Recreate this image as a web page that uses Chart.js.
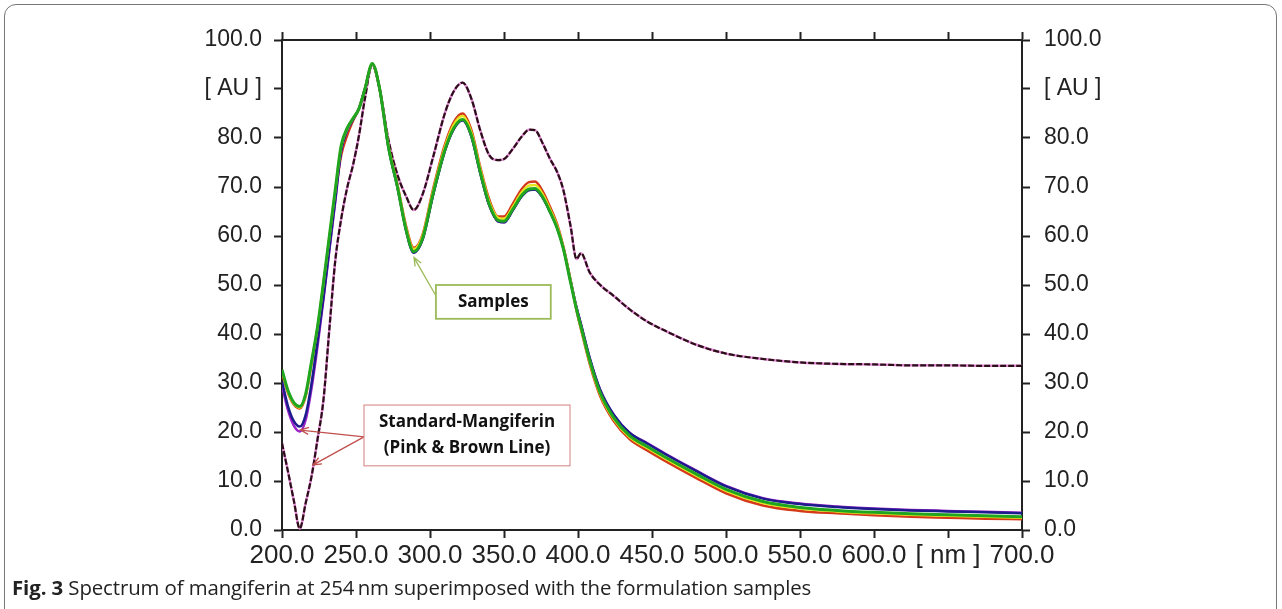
<!DOCTYPE html>
<html>
<head>
<meta charset="utf-8">
<title>Spectrum of mangiferin</title>
<script src="https://cdn.jsdelivr.net/npm/chart.js@4.4.1/dist/chart.umd.min.js"></script>
<style>
    body { margin: 0; background: #fff; }
    #wrap { position: relative; width: 1282px; height: 609px; overflow: hidden; }
    #frame { position: absolute; left: 4px; top: 4px; width: 1273px; height: 640px; border: 1.5px solid #777; border-radius: 12px; box-sizing: border-box; }
    #chart { position: absolute; left: 0; top: 0; }
    #caption { position: absolute; left: 12px; top: 573px; font-family: "Open Sans", sans-serif; font-size: 20.4px; color: #222; white-space: nowrap; letter-spacing: -0.1px; }
    #caption b { font-weight: 700; }
</style>
</head>
<body>
<div id="wrap">
    <div id="frame"></div>
    <canvas id="chart" width="1282" height="609"></canvas>
    <div id="caption"><b>Fig. 3</b> Spectrum of mangiferin at 254&#8201;nm superimposed with the formulation samples</div>
</div>
<script>
// wavelengths (nm) shared by every trace
const wavelengths = [200, 204, 208, 212, 216, 220, 224, 228, 232, 236,
    240, 244, 248, 252, 256, 261, 266, 272, 278, 284,
    289, 295, 302, 310, 316, 322, 328, 334, 340, 346,
    350, 356, 362, 367, 371, 376, 381, 386, 390, 395,
    399, 402, 408, 415, 424, 435, 447, 460, 480, 500,
    525, 550, 575, 600, 625, 650, 675, 700];

// standard mangiferin (pink & brown line)
const standardMangiferin = [17.7, 12, 6, 0.3, 5.5, 11, 18.5, 26.5, 41, 55,
    63.5, 69.8, 74.5, 80.5, 88, 95, 90, 79.5, 72.5, 68,
    65.3, 68.5, 76, 85, 89.5, 91.3, 88, 81.5, 76.5, 75.5,
    75.7, 77.8, 80.3, 81.7, 81.6, 79, 75.8, 73, 69.5, 62,
    55.3, 56.5, 52.5, 50, 47.8, 45, 42.5, 40.5, 37.8, 36,
    34.9, 34.2, 33.9, 33.8, 33.6, 33.6, 33.5, 33.5];

// formulation samples
const sampleGreen = [32.7, 28.5, 26, 25.2, 27.8, 34.5, 41.5, 50.5, 60, 69.5,
    78.5, 82, 84, 86, 90, 95.2, 90, 78, 70, 61,
    56.8, 59.5, 68.5, 77.5, 82, 83.8, 80.5, 73, 66.5, 63.2,
    63, 65.5, 68.3, 69.6, 69.7, 68, 65, 61.5, 57.5, 50.5,
    45, 41.5, 34.5, 28, 23, 19.2, 17, 14.7, 11.4, 8.3,
    5.8, 4.6, 4.0, 3.6, 3.3, 3.1, 2.9, 2.7];

const sampleYellow = [32.5, 28.3, 25.8, 25, 27.6, 34.3, 41.3, 50.3, 59.8, 69.3,
    78.3, 81.8, 84, 86, 90, 95.1, 90, 78.2, 70.3, 61.4,
    57.3, 60, 69, 78.1, 82.7, 84.5, 81.1, 73.6, 67, 63.7,
    63.5, 66, 68.9, 70.3, 70.4, 68.6, 65.5, 61.9, 57.8, 50.8,
    45, 41.3, 34.2, 27.7, 22.7, 18.9, 16.7, 14.4, 11.1, 8,
    5.5, 4.4, 3.8, 3.4, 3.1, 2.9, 2.7, 2.5];

const sampleBlue = [30.3, 25.3, 22.2, 21.1, 23.5, 30, 38.5, 47.5, 57.5, 67.5,
    77.5, 81.5, 83.8, 86, 90, 95, 90, 78, 70, 61,
    56.6, 59.3, 68.3, 77.3, 81.8, 83.6, 80.3, 72.8, 66.3, 63,
    62.8, 65.3, 68.1, 69.4, 69.5, 67.9, 65, 61.6, 57.7, 50.8,
    45.4, 42, 35, 28.6, 23.6, 19.8, 17.6, 15.3, 12, 8.9,
    6.4, 5.3, 4.7, 4.3, 4.0, 3.8, 3.6, 3.4];

const sampleViolet = [29.5, 24.5, 21.3, 20.1, 22.5, 29, 37.5, 47, 57, 67,
    77.5, 81.5, 83.8, 86, 90, 95, 90, 78, 70, 61,
    56.6, 59.3, 68.3, 77.3, 81.8, 83.6, 80.3, 72.8, 66.3, 63,
    62.8, 65.3, 68.1, 69.4, 69.5, 67.9, 65, 61.6, 57.7, 50.8,
    45.4, 42, 35, 28.6, 23.6, 19.8, 17.7, 15.4, 12.1, 9,
    6.5, 5.4, 4.8, 4.4, 4.1, 3.9, 3.7, 3.5];

const sampleRed = [32, 28, 25.6, 24.8, 27.3, 34, 41, 50, 59.5, 68.5,
    76.5, 80.5, 83.5, 86, 90, 95, 90, 78.3, 70.5, 61.8,
    57.6, 60.3, 69.5, 78.6, 83.2, 85, 81.6, 74, 67.5, 64,
    64, 66.6, 69.6, 71, 71.1, 69.2, 66, 62.3, 58, 51,
    44.8, 41, 33.8, 27.3, 22.3, 18.5, 16.2, 13.9, 10.6, 7.5,
    5, 3.9, 3.4, 3.0, 2.7, 2.5, 2.3, 2.2];

// axis ticks
const xTicks = [200, 250, 300, 350, 400, 450, 500, 550, 600, 650, 700];
const yTicks = [0, 10, 20, 30, 40, 50, 60, 70, 80, 90, 100];

// helper to pair wavelengths with values
function toPoints(values) {
    return wavelengths.map((w, i) => ({ x: w, y: values[i] }));
}

function makeLine(label, values, color, width, dash) {
    return {
        label: label,
        data: toPoints(values),
        borderColor: color,
        borderWidth: width,
        borderDash: dash || [],
        pointRadius: 0,
        fill: false,
        cubicInterpolationMode: "monotone"
    };
}

// callouts, placed in data units (nm, AU)
const callouts = [
    {
        lines: ["Samples"], box: [304, 50, 381.6, 43.1], color: "#9bbb59",
        arrows: [{ from: [304, 47.8], to: [289.2, 55.6] }]
    },
    {
        lines: ["Standard-Mangiferin", "(Pink & Brown Line)"], box: [255.4, 25.5, 394.6, 13.1], color: "#d99594", arrowColor: "#c0504d",
        arrows: [{ from: [255.4, 19], to: [212.4, 20.4] }, { from: [255.4, 19], to: [221, 13.3] }]
    }
];

const calloutPlugin = {
    id: "callouts",
    afterDatasetsDraw(chart) {
        const ctx = chart.ctx;
        const xs = chart.scales.x, ys = chart.scales.y;
        callouts.forEach(c => {
            const x0 = xs.getPixelForValue(c.box[0]), y0 = ys.getPixelForValue(c.box[1]);
            const x1 = xs.getPixelForValue(c.box[2]), y1 = ys.getPixelForValue(c.box[3]);
            ctx.save();
            // arrows
            ctx.strokeStyle = c.arrowColor || c.color;
            ctx.lineWidth = 1.3;
            c.arrows.forEach(a => {
                const fx = xs.getPixelForValue(a.from[0]), fy = ys.getPixelForValue(a.from[1]);
                const tx = xs.getPixelForValue(a.to[0]), ty = ys.getPixelForValue(a.to[1]);
                const ang = Math.atan2(ty - fy, tx - fx);
                ctx.beginPath();
                ctx.moveTo(fx, fy);
                ctx.lineTo(tx, ty);
                ctx.moveTo(tx - 9 * Math.cos(ang - 0.4), ty - 9 * Math.sin(ang - 0.4));
                ctx.lineTo(tx, ty);
                ctx.lineTo(tx - 9 * Math.cos(ang + 0.4), ty - 9 * Math.sin(ang + 0.4));
                ctx.stroke();
            });
            // box
            ctx.fillStyle = "#fff";
            ctx.fillRect(x0, y0, x1 - x0, y1 - y0);
            ctx.strokeStyle = c.color;
            ctx.lineWidth = c.lines.length > 1 ? 1.2 : 1.8;
            ctx.strokeRect(x0, y0, x1 - x0, y1 - y0);
            // text
            ctx.fillStyle = "#111";
            ctx.font = "bold 17px 'Open Sans', sans-serif";
            ctx.textAlign = "center";
            ctx.textBaseline = "middle";
            const cx = (x0 + x1) / 2, cy = (y0 + y1) / 2, lh = 26;
            c.lines.forEach((t, i) => {
                ctx.fillText(t, cx, cy + (i - (c.lines.length - 1) / 2) * lh);
            });
            ctx.restore();
        });
    }
};

const tickFont = { family: "'Liberation Sans', Arial, sans-serif", size: 23 };
const axisGrid = { drawOnChartArea: false, tickLength: 8, tickWidth: 2, tickColor: "#222" };
const axisBorder = { display: true, color: "#222", width: 2 };

function xLabel(v) {
    return v === 650 ? "[ nm ]" : v.toFixed(1);
}
function yLabel(v) {
    return v === 90 ? "[ AU ]" : v.toFixed(1);
}

function setupSpectrumChart() {
    const ctx = document.getElementById("chart").getContext("2d");
    new Chart(ctx, {
        type: "line",
        data: {
            datasets: [
                makeLine("Sample 1", sampleGreen, "#1fa51f", 3),
                makeLine("Sample 2", sampleYellow, "#e6e61e", 2.5),
                makeLine("Sample 3", sampleBlue, "#1c1c8c", 2.5),
                makeLine("Sample 4", sampleViolet, "#9a22c8", 2.5),
                makeLine("Sample 5", sampleRed, "#d43a1a", 2.5),
                makeLine("Standard (brown)", standardMangiferin, "#2a0f18", 2.2, [6, 2]),
                makeLine("Standard (pink)", standardMangiferin, "#e58ad6", 2.5)
            ]
        },
        options: {
            responsive: false,
            animation: false,
            layout: { padding: 0 },
            plugins: { legend: { display: false }, tooltip: { enabled: false } },
            scales: {
                x: {
                    type: "linear", position: "bottom", min: 200, max: 700,
                    afterBuildTicks: s => { s.ticks = xTicks.map(v => ({ value: v })); },
                    afterFit: s => { s.height = 79; },
                    ticks: { autoSkip: false, maxRotation: 0, padding: 2, color: "#222", font: { family: tickFont.family, size: 26 }, callback: xLabel },
                    grid: axisGrid, border: axisBorder
                },
                xTop: {
                    type: "linear", position: "top", min: 200, max: 700,
                    afterBuildTicks: s => { s.ticks = xTicks.map(v => ({ value: v })); },
                    afterFit: s => { s.height = 40; },
                    ticks: { display: false },
                    grid: axisGrid, border: axisBorder
                },
                y: {
                    type: "linear", position: "left", min: 0, max: 100,
                    afterBuildTicks: s => { s.ticks = yTicks.map(v => ({ value: v })); },
                    afterFit: s => { s.width = 282; },
                    ticks: { padding: 12, color: "#222", font: tickFont, callback: yLabel },
                    grid: axisGrid, border: axisBorder
                },
                yRight: {
                    type: "linear", position: "right", min: 0, max: 100,
                    afterBuildTicks: s => { s.ticks = yTicks.map(v => ({ value: v })); },
                    afterFit: s => { s.width = 260; },
                    ticks: { padding: 14, color: "#222", font: tickFont, callback: yLabel },
                    grid: axisGrid, border: axisBorder
                }
            }
        },
        plugins: [calloutPlugin]
    });
}

document.addEventListener("DOMContentLoaded", setupSpectrumChart);
</script>
</body>
</html>
